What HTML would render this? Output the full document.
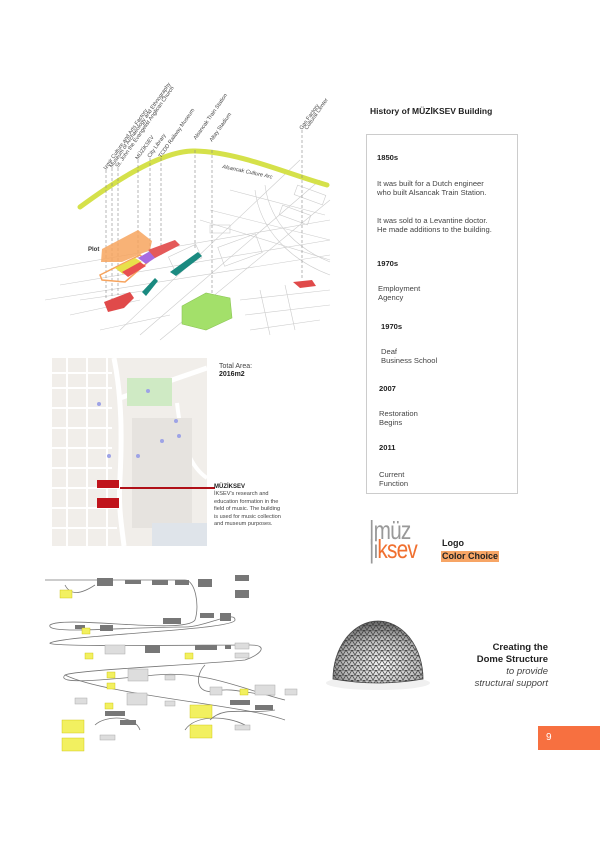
<!DOCTYPE html>
<html><head><meta charset="utf-8"><style>
body{margin:0;background:#fff}
#p{position:relative;width:600px;height:848px;overflow:hidden;background:#fff;font-family:"Liberation Sans",sans-serif;color:#333}
.t{position:absolute;font-size:7.6px;line-height:9px;white-space:nowrap;color:#444}
.b{font-weight:bold;color:#222}
</style></head><body><div id="p">

<!-- Axonometric -->
<svg style="position:absolute;left:0;top:0" width="360" height="345">
 <g stroke="#ccc" stroke-width="0.6" fill="none">
  <path d="M40,270 L330,220"/><path d="M60,285 L330,240"/><path d="M45,300 L330,255"/>
  <path d="M120,330 L300,160"/><path d="M140,335 L320,180"/><path d="M160,340 L330,200"/>
  <path d="M200,220 L330,260"/><path d="M210,210 L330,240"/><path d="M230,190 L325,215"/>
  <path d="M255,190 C260,230 290,260 330,275"/><path d="M265,185 C270,225 300,250 330,262"/>
  <rect x="210" y="225" width="20" height="8"/><rect x="280" y="210" width="30" height="10" transform="rotate(20 295 215)"/>
  <rect x="295" y="190" width="30" height="10" transform="rotate(20 310 195)"/>
  <path d="M240,300 L330,290 M245,315 L330,305 M250,330 L320,320 M260,290 L270,335 M285,285 L295,330"/>
  <path d="M80,300 L150,290 M70,315 L140,300 M100,330 L170,315"/>
  <rect x="220" y="240" width="40" height="20" transform="rotate(-20 240 250)"/>
  <rect x="170" y="250" width="30" height="15" transform="rotate(-25 185 257)"/>
 </g>
 <path d="M80,207 C130,170 170,150 195,151 C240,152 290,175 327,185" stroke="#d5e14a" stroke-width="5" fill="none" stroke-linecap="round"/>
 <g stroke="#888" stroke-width="0.6" stroke-dasharray="3,2" fill="none">
  <path d="M106,170V300"/><path d="M112,168V300"/><path d="M118,168V295"/><path d="M138,160V270"/>
  <path d="M150,158V262"/><path d="M161,158V255"/><path d="M195,150V250"/><path d="M212,150V300"/><path d="M302,130V280"/>
 </g>
 <polygon points="102,249 138,230 152,241 150,250 122,262 101,262" fill="#f7a45e" opacity="0.85"/>
 <polygon points="100,275 140,255 148,262 125,282 102,280" fill="none" stroke="#f7a45e" stroke-width="1.5"/>
 <polygon points="115,268 135,258 142,262 123,274" fill="#e8e04a"/>
 <polygon points="122,272 140,262 146,266 128,277" fill="#e85050"/>
 <polygon points="138,258 152,250 158,256 146,264" fill="#a86ae0"/>
 <polygon points="148,250 175,240 180,245 155,258" fill="#e45a5a"/>
 <polygon points="104,302 130,292 134,298 124,308 108,312" fill="#e04a4a"/>
 <polygon points="142,292 155,278 158,281 146,296" fill="#1a8a80"/>
 <polygon points="170,272 198,252 202,256 176,276" fill="#1a8a80"/>
 <polygon points="182,306 206,293 230,298 232,318 206,330 182,324" fill="#a3e06a" stroke="#8cc655" stroke-width="0.6"/>
 <polygon points="293,282 312,280 316,286 300,288" fill="#e04a4a"/>
 <text x="88" y="251" font-size="6" font-family="Liberation Sans" font-weight="bold" fill="#333">Plot</text>
 <g font-family="Liberation Sans" font-size="5.5" fill="#444">
  <text transform="translate(106,170) rotate(-55)">Izmir Culture and Arts Factory</text>
  <text transform="translate(112,168) rotate(-55)">Museum of Archaeology and Ethnography</text>
  <text transform="translate(118,168) rotate(-55)">St. John the Evangelist Anglican Church</text>
  <text transform="translate(138,160) rotate(-55)">MÜZİKSEV</text>
  <text transform="translate(150,158) rotate(-55)">City Library</text>
  <text transform="translate(161,158) rotate(-55)">TCDD Railway Museum</text>
  <text transform="translate(196,140) rotate(-55)">Alsancak Train Station</text>
  <text transform="translate(212,142) rotate(-55)">Altay Stadium</text>
  <text transform="translate(302,130) rotate(-55)">Gas Factory</text>
  <text transform="translate(307,130) rotate(-55)">Cultural Center</text>
  <text transform="translate(222,168) rotate(12)" font-style="italic">Alsancak Culture Arc</text>
 </g>
</svg>

<!-- History -->
<div class="t b" style="left:370px;top:107px;font-size:8.5px">History of MÜZİKSEV Building</div>
<div style="position:absolute;left:366px;top:134px;width:150px;height:358px;border:1px solid #ccc"></div>
<div class="t b" style="left:377px;top:153px">1850s</div>
<div class="t" style="left:377px;top:179px">It was built for a Dutch engineer<br>who built Alsancak Train Station.</div>
<div class="t" style="left:377px;top:216px">It was sold to a Levantine doctor.<br>He made additions to the building.</div>
<div class="t b" style="left:377px;top:259px">1970s</div>
<div class="t" style="left:378px;top:284px">Employment<br>Agency</div>
<div class="t b" style="left:381px;top:322px">1970s</div>
<div class="t" style="left:381px;top:347px">Deaf<br>Business School</div>
<div class="t b" style="left:379px;top:384px">2007</div>
<div class="t" style="left:379px;top:409px">Restoration<br>Begins</div>
<div class="t b" style="left:379px;top:443px">2011</div>
<div class="t" style="left:379px;top:470px">Current<br>Function</div>

<!-- Map -->
<svg style="position:absolute;left:52px;top:358px" width="155" height="188">
 <rect width="155" height="188" fill="#f1eeea"/>
 <g stroke="#fff" stroke-width="2" fill="none">
  <path d="M0,15H60M0,30H60M0,50H60M0,70H60M0,90H60M0,110H60M0,130H65M0,150H65M0,170H65"/>
  <path d="M15,0V188M35,0V188M55,0V188"/>
 </g>
 <path d="M62,0 C70,40 70,80 68,120 C66,150 70,170 72,188" stroke="#fff" stroke-width="5" fill="none"/>
 <path d="M68,40 L155,10" stroke="#fff" stroke-width="5"/>
 <path d="M125,45 C130,90 140,110 155,120" stroke="#fff" stroke-width="4" fill="none"/>
 <rect x="75" y="20" width="45" height="28" fill="#cfeac4"/>
 <rect x="80" y="60" width="60" height="110" fill="#e6e3df"/>
 <rect x="100" y="165" width="55" height="23" fill="#dfe4ea"/>
 <rect x="45" y="122" width="22" height="8" fill="#c0141c"/>
 <rect x="45" y="140" width="22" height="10" fill="#c0141c"/>
 <g fill="#9ea3e6"><circle cx="47" cy="46" r="2"/><circle cx="96" cy="33" r="2"/><circle cx="110" cy="83" r="2"/><circle cx="124" cy="63" r="2"/><circle cx="127" cy="78" r="2"/><circle cx="86" cy="98" r="2"/><circle cx="57" cy="98" r="2"/></g>
</svg>
<div style="position:absolute;left:120px;top:487px;width:95px;height:1.5px;background:#b01018"></div>
<div class="t" style="left:219px;top:362px;font-size:7px">Total Area:</div>
<div class="t b" style="left:219px;top:370px;font-size:7px">2016m2</div>
<div class="t b" style="left:214px;top:484px;font-size:6px;line-height:7px">MÜZİKSEV</div>
<div class="t" style="left:214px;top:491px;font-size:5.6px;line-height:7.5px">İKSEV's research and<br>education formation in the<br>field of music. The building<br>is used for music collection<br>and museum purposes.</div>

<!-- Logo -->
<div style="position:absolute;left:369px;top:521px;font-family:'Liberation Sans';font-size:26px;line-height:19px;letter-spacing:-1px;transform:scaleX(0.8);transform-origin:left">
 <div style="color:#999">|müz</div><div><span style="color:#999">|i</span><span style="color:#f07030">ksev</span></div>
</div>
<div class="t b" style="left:442px;top:538px;font-size:9px;line-height:11px">Logo</div>
<div class="t b" style="left:441px;top:551px;font-size:9px;line-height:11px;background:#f7a565;padding:0 1px">Color Choice</div>

<!-- Dome -->
<svg style="position:absolute;left:325px;top:615px" width="110" height="80">
 <defs>
  <pattern id="tr" width="6" height="5" patternUnits="userSpaceOnUse"><path d="M0,5 L3,0 L6,5 M0,0 H6" stroke="#333" stroke-width="0.7" fill="none"/></pattern>
  <radialGradient id="g" cx="0.55" cy="0.7" r="0.7"><stop offset="0" stop-color="#f4f4f4"/><stop offset="0.6" stop-color="#bbb"/><stop offset="1" stop-color="#666"/></radialGradient>
 </defs>
 <ellipse cx="53" cy="68" rx="52" ry="7" fill="#f0f0f0"/>
 <path d="M8,64 A45,58 0 0 1 98,64 Q53,72 8,64 Z" fill="url(#g)"/>
 <path d="M8,64 A45,58 0 0 1 98,64 Q53,72 8,64 Z" fill="url(#tr)" stroke="#444" stroke-width="0.8"/>
</svg>
<div style="position:absolute;right:52px;top:642px;text-align:right;font-size:9.5px;line-height:12px;color:#222">
 <b>Creating the<br>Dome Structure</b><br><i style="color:#444">to provide<br>structural support</i></div>

<!-- Page number -->
<div style="position:absolute;left:538px;top:726px;width:62px;height:24px;background:#f77040;color:#fff;font-size:10px;line-height:24px;text-indent:8px">9</div>

<!-- Grasshopper -->
<svg style="position:absolute;left:45px;top:565px" width="270" height="195">
 <g stroke="#777" stroke-width="0.8" fill="none">
  <path d="M0,15 H140 C150,15 155,40 150,55 C140,70 20,50 5,60 C0,70 80,62 140,62 C160,62 190,45 190,55 C190,65 20,70 5,78 C0,82 150,80 205,80 C225,80 215,90 200,95 C150,100 30,105 20,110 C10,120 60,115 110,110 C160,105 200,125 240,135"/>
  <path d="M20,110 C60,130 200,140 240,155"/><path d="M20,20 C25,30 35,30 50,20"/>
  <path d="M160,100 C150,110 150,130 170,126 C190,122 205,130 230,130"/>
  <path d="M165,155 C180,140 200,150 230,145"/>
  <path d="M50,160 C60,150 90,150 95,165"/><path d="M140,165 C150,150 180,150 200,160"/>
 </g>
 <g fill="#777">
  <rect x="52" y="13" width="16" height="8"/><rect x="80" y="15" width="16" height="4"/><rect x="107" y="15" width="16" height="5"/><rect x="130" y="15" width="14" height="5"/>
  <rect x="153" y="14" width="14" height="8"/><rect x="190" y="10" width="14" height="6"/><rect x="190" y="25" width="14" height="8"/>
  <rect x="155" y="48" width="14" height="5"/><rect x="175" y="48" width="11" height="8"/><rect x="118" y="53" width="18" height="6"/>
  <rect x="55" y="60" width="13" height="6"/><rect x="30" y="60" width="10" height="4"/><rect x="100" y="80" width="15" height="8"/>
  <rect x="150" y="80" width="22" height="5"/><rect x="180" y="80" width="6" height="4"/><rect x="60" y="146" width="20" height="5"/><rect x="75" y="155" width="16" height="5"/>
  <rect x="185" y="135" width="20" height="5"/><rect x="210" y="140" width="18" height="5"/>
 </g>
 <g fill="#ddd" stroke="#aaa" stroke-width="0.5">
  <rect x="60" y="80" width="20" height="9"/><rect x="190" y="78" width="14" height="6"/><rect x="190" y="88" width="14" height="5"/>
  <rect x="83" y="104" width="20" height="12"/><rect x="82" y="128" width="20" height="12"/><rect x="210" y="120" width="20" height="10"/>
  <rect x="165" y="122" width="12" height="8"/><rect x="30" y="133" width="12" height="6"/><rect x="240" y="124" width="12" height="6"/>
  <rect x="120" y="110" width="10" height="5"/><rect x="120" y="136" width="10" height="5"/><rect x="55" y="170" width="15" height="5"/><rect x="190" y="160" width="15" height="5"/>
 </g>
 <g fill="#f2f060" stroke="#c8c000" stroke-width="0.4">
  <rect x="15" y="25" width="12" height="8"/><rect x="37" y="63" width="8" height="6"/><rect x="40" y="88" width="8" height="6"/><rect x="140" y="88" width="8" height="6"/>
  <rect x="62" y="107" width="8" height="6"/><rect x="62" y="118" width="8" height="6"/><rect x="60" y="138" width="8" height="6"/><rect x="195" y="124" width="8" height="6"/>
  <rect x="17" y="155" width="22" height="13"/><rect x="17" y="173" width="22" height="13"/><rect x="145" y="140" width="22" height="13"/><rect x="145" y="160" width="22" height="13"/>
 </g>
</svg>
</div></body></html>
